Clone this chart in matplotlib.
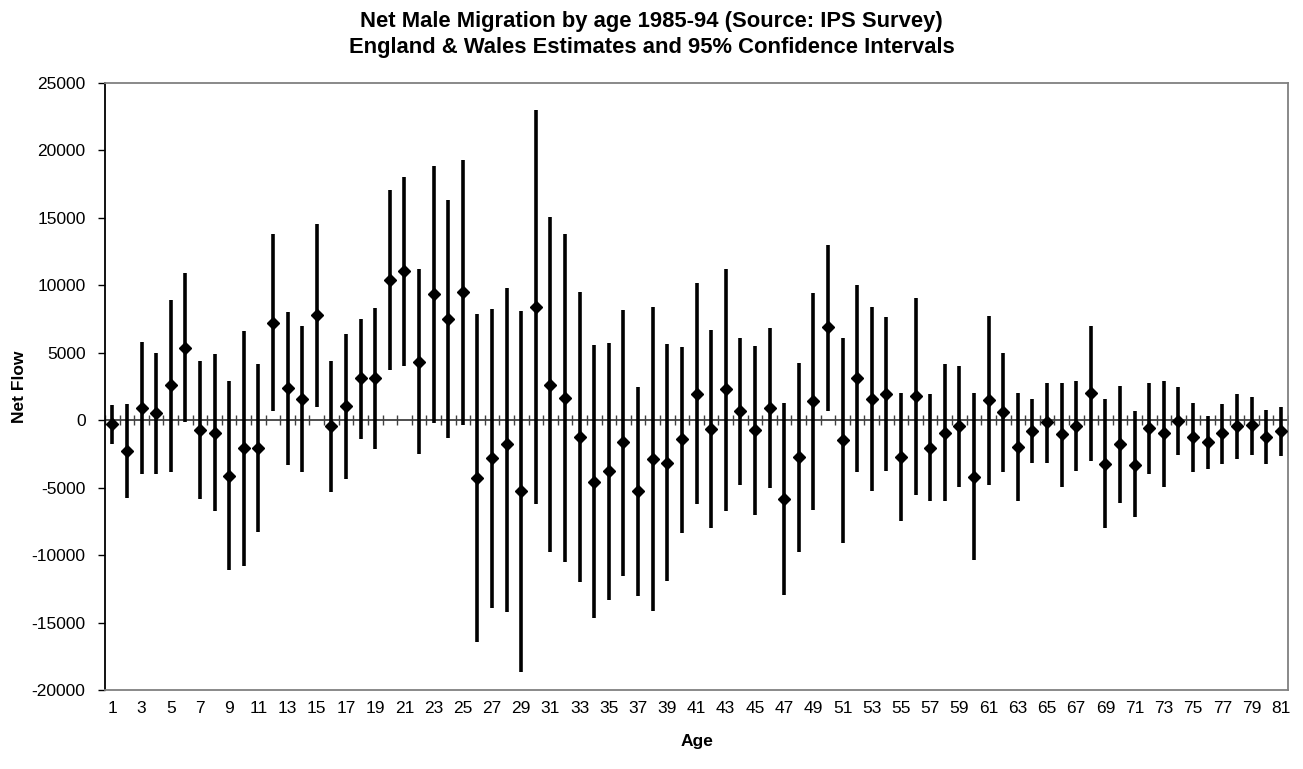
import numpy as np
import matplotlib.pyplot as plt

plt.rcParams['font.family'] = ['Liberation Sans', 'DejaVu Sans']

# Net flow estimate per single year of age, with lower / upper 95% limits
ages = np.arange(1, 82)

estimate = [
    -250, -2260, 940, 530, 2580, 5370, -700, -910, -4110, -2080,
    -2080, 7220, 2380, 1590, 7780, -410, 1060, 3110, 3110, 10420,
    11070, 4340, 9330, 7480, 9480, -4260, -2790, -1760, -5280, 8390,
    2640, 1670, -1260, -4550, -3790, -1640, -5280, -2850, -3140, -1410,
    1970, -650, 2290, 680, -700, 910, -5840, -2700, 1410, 6900,
    -1470, 3140, 1560, 1940, -2700, 1820, -2060, -940, -440, -4170,
    1470, 590, -2000, -790, -150, -1030, -410, 2030, -3230, -1760,
    -3290, -590, -940, -60, -1230, -1590, -940, -410, -350, -1230,
    -790,
]

lower = [
    -1730, -5780, -3960, -3960, -3820, -120, -5870, -6720, -11120, -10800,
    -8280, 650, -3320, -3820, 970, -5340, -4340, -1410, -2110, 3730,
    4020, -2470, -240, -1350, -320, -16440, -13910, -14240, -18700, -6220,
    -9800, -10480, -12000, -14650, -13350, -11510, -13030, -14150, -11950, -8370,
    -6220, -7980, -6750, -4810, -6990, -5050, -12970, -9740, -6660, 700,
    -9100, -3820, -5250, -3790, -7460, -5520, -6020, -6020, -4960, -10360,
    -4810, -3820, -6020, -3140, -3170, -4930, -3790, -2990, -7980, -6160,
    -7190, -3960, -4930, -2610, -3820, -3580, -3230, -2880, -2550, -3230,
    -2640,
]

upper = [
    1160, 1200, 5810, 4990, 8950, 10890, 4400, 4900, 2880, 6600,
    4170, 13820, 8040, 6960, 14530, 4430, 6400, 7510, 8310, 17050,
    18050, 11180, 18870, 16320, 19310, 7870, 8250, 9770, 8100, 22980,
    15060, 13800, 9480, 5580, 5750, 8160, 2470, 8420, 5670, 5460,
    10160, 6660, 11240, 6110, 5490, 6810, 1260, 4260, 9420, 13030,
    6080, 10010, 8370, 7660, 2000, 9100, 1940, 4140, 4050, 2030,
    7750, 4960, 2030, 1590, 2790, 2730, 2880, 6990, 1590, 2550,
    650, 2790, 2940, 2440, 1260, 350, 1170, 1940, 1730, 730,
    970,
]

yticks = np.arange(-20000, 25001, 5000)
xticks = ages[::2]

fig = plt.figure(figsize=(13.03, 7.69), dpi=100)
ax = fig.add_axes([0.0806, 0.1027, 0.9079, 0.7893])

ax.set_xlim(0.5, 81.5)
ax.set_ylim(-20000, 25000)

# category axis sits on zero, with tick marks between the ages
ax.axhline(0, color='#404040', lw=1.3, zorder=1)
edges = np.arange(0.5, 82, 1.0)
ax.plot(edges, np.zeros_like(edges), ls='none', marker='|', ms=7.5,
        mew=1.0, color='#404040', zorder=1)

# confidence intervals and estimates
ax.vlines(ages, lower, upper, color='black', lw=2.6, zorder=2)
ax.plot(ages, estimate, ls='none', marker='D', ms=6.2, color='black', zorder=3)

ax.set_yticks(yticks)
ax.set_yticklabels([str(v) for v in yticks], fontsize=12.5)
ax.set_xticks(xticks)
ax.set_xticklabels([str(a) for a in xticks], fontsize=12.5)
ax.tick_params(axis='x', length=0, pad=8)
ax.tick_params(axis='y', length=5, width=1, direction='out', pad=9, color='black')

for side in ['top', 'right', 'bottom']:
    ax.spines[side].set_color('#808080')
    ax.spines[side].set_linewidth(1.3)
ax.spines['left'].set_color('black')
ax.spines['left'].set_linewidth(1.3)

ax.set_xlabel('Age', fontsize=12.5, fontweight='bold', labelpad=13)
ax.set_ylabel('Net Flow', fontsize=12.5, fontweight='bold')
ax.yaxis.set_label_coords(-0.066, 0.5)

fig.suptitle('Net Male Migration by age 1985-94 (Source: IPS Survey)\n'
             'England & Wales Estimates and 95% Confidence Intervals',
             x=0.5, y=0.986, fontsize=15.8, fontweight='bold', linespacing=1.33)

fig.savefig('out.png', dpi=100)
